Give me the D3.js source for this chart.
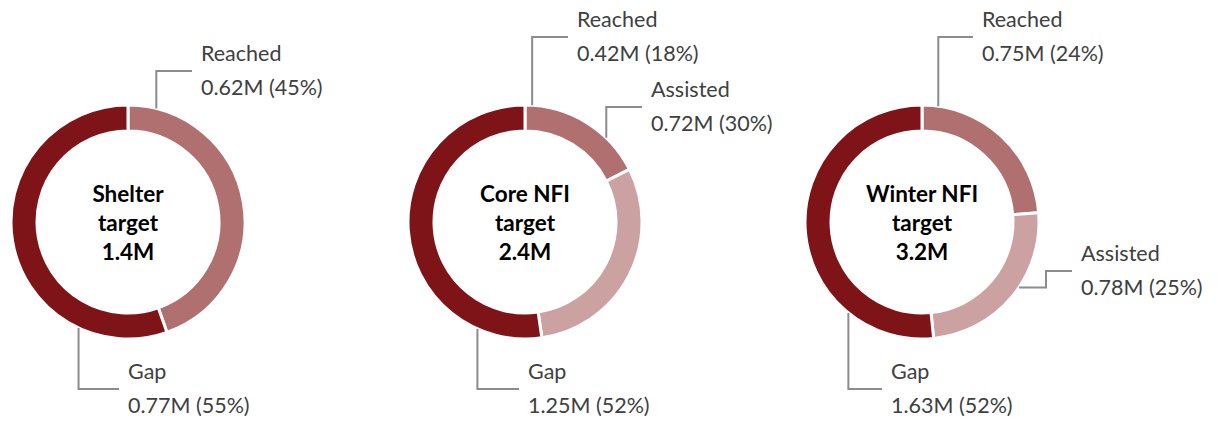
<!DOCTYPE html>
<html>
<head>
<meta charset="utf-8">
<script src="https://cdn.jsdelivr.net/npm/d3@7"></script>
<style>
  body { margin: 0; background: #fff; }
  svg text { font-family: Lato, "Open Sans", sans-serif; }
</style>
</head>
<body>
<svg id="chart" width="1217" height="423"></svg>
<script>
// data, in millions
const targets = ['Shelter', 'Core NFI', 'Winter NFI']
const targetTotals = ['1.4M', '2.4M', '3.2M']
const categories = ['Reached', 'Assisted', 'Gap']
const reached = [0.62, 0.42, 0.75]
const assisted = [0, 0.72, 0.78]
const gap = [0.77, 1.25, 1.63]
const reachedPct = [45, 18, 24]
const assistedPct = [0, 30, 25]
const gapPct = [55, 52, 52]

const colors = { Reached: '#b07070', Assisted: '#cca1a1', Gap: '#7f1418' }

const svg = d3.select('#chart'),
  centersX = [128, 525, 922],
  centerY = 222,
  outerR = 117,
  innerR = 91

// where each leader line leaves the ring and where its label sits (relative to centre)
const labelLayout = [
  [{ cat: 'Reached', angle: 14, elbowY: -151, endX: 64 },
   { cat: 'Gap', angle: 205, elbowY: 167, endX: -9 }],
  [{ cat: 'Reached', angle: 3.5, elbowY: -185, endX: 43 },
   { cat: 'Assisted', angle: 44, elbowY: -115, endX: 117 },
   { cat: 'Gap', angle: 204, elbowY: 167, endX: -6 }],
  [{ cat: 'Reached', angle: 8, elbowY: -185, endX: 51 },
   { cat: 'Assisted', angle: 124, elbowY: 49, endX: 150, stepX: 124 },
   { cat: 'Gap', angle: 219, elbowY: 167, endX: -40 }],
]

const pie = d3.pie().sort(null).value(d => d.value)
const arc = d3.arc().innerRadius(innerR).outerRadius(outerR)

targets.forEach((name, i) => {
  const slices = [
    { cat: 'Reached', value: reached[i], pct: reachedPct[i] },
    { cat: 'Assisted', value: assisted[i], pct: assistedPct[i] },
    { cat: 'Gap', value: gap[i], pct: gapPct[i] },
  ].filter(d => d.value > 0)

  const g = svg.append('g').attr('transform', 'translate(' + centersX[i] + ',' + centerY + ')')

  g.selectAll('path.slice')
    .data(pie(slices))
    .enter().append('path')
    .attr('class', 'slice')
    .attr('d', arc)
    .attr('fill', d => colors[d.data.cat])
    .attr('stroke', '#fff')
    .attr('stroke-width', 3)

  // centre text
  const centre = g.append('text')
    .attr('text-anchor', 'middle')
    .attr('font-weight', 'bold')
    .attr('font-size', 22.5)
    .attr('fill', '#000')
  ;[name, 'target', targetTotals[i]].forEach((t, k) => {
    centre.append('tspan').attr('x', 0).attr('y', -20 + k * 29).text(t)
  })

  // leader lines + labels
  labelLayout[i].forEach(l => {
    const s = slices.find(d => d.cat === l.cat)
    const a = l.angle * Math.PI / 180
    const ax = outerR * Math.sin(a), ay = -outerR * Math.cos(a)
    let pts
    if (l.stepX !== undefined) {
      pts = [[ax, ay], [l.stepX, ay], [l.stepX, l.elbowY], [l.endX, l.elbowY]]
    } else {
      pts = [[ax, ay], [ax, l.elbowY], [l.endX, l.elbowY]]
    }
    g.append('path')
      .attr('d', d3.line()(pts))
      .attr('fill', 'none')
      .attr('stroke', '#8c8c8c')
      .attr('stroke-width', 2)

    const tx = l.endX + 9
    g.append('text')
      .attr('x', tx).attr('y', l.elbowY - 10)
      .attr('font-size', 21.5)
      .attr('fill', '#404040')
      .text(s.cat)
    g.append('text')
      .attr('x', tx).attr('y', l.elbowY + 24)
      .attr('font-size', 21.5)
      .attr('fill', '#404040')
      .text(d3.format('.2f')(s.value) + 'M (' + s.pct + '%)')
  })
})
</script>
</body>
</html>
